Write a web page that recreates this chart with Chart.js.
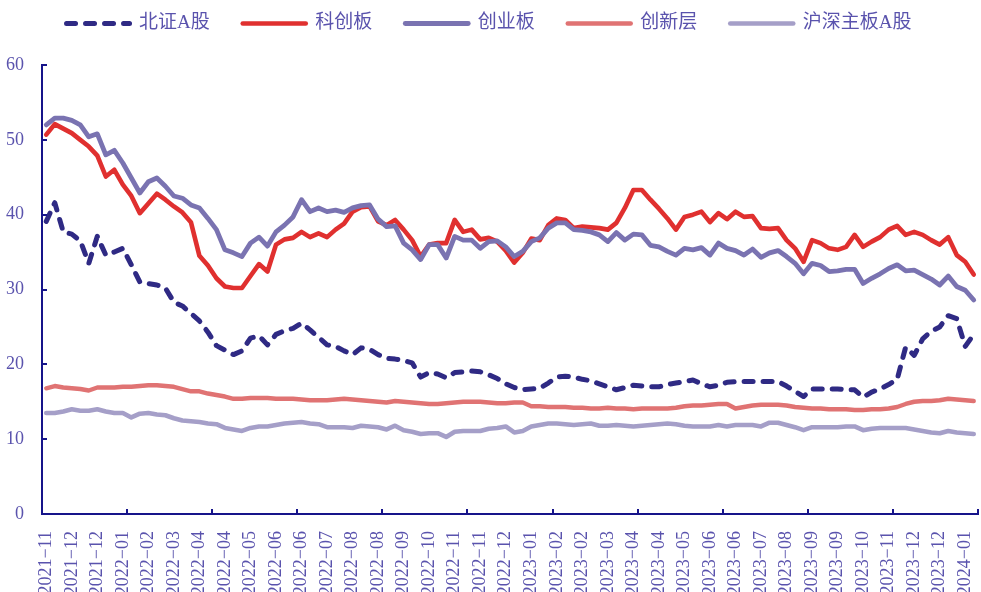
<!DOCTYPE html>
<html>
<head>
<meta charset="utf-8">
<script src="https://cdn.jsdelivr.net/npm/chart.js@4.4.1/dist/chart.umd.min.js"></script>
<style>
  html, body { margin: 0; padding: 0; background: #fff; }
  #wrap { width: 981px; height: 592px; }
</style>
</head>
<body>
<div id="wrap"><canvas id="peChart" width="981" height="592"></canvas></div>
<script>
// tick labels, one every 3 weeks
var tickLabels = ["2021−11","2021−12","2021−12","2022−01","2022−02","2022−03","2022−04","2022−04",
  "2022−05","2022−06","2022−06","2022−07","2022−08","2022−08","2022−09","2022−10","2022−11","2022−11",
  "2022−12","2023−01","2023−02","2023−02","2023−03","2023−04","2023−04","2023−05","2023−06","2023−06",
  "2023−07","2023−08","2023−09","2023−09","2023−10","2023−11","2023−12","2023−12","2024−01"];

// 北证A股
var bjA = [39.1,41.6,37.7,37.4,36.5,33.5,37.1,34.6,35.0,35.5,33.3,31.0,30.8,30.6,30.2,28.3,27.8,26.8,25.8,24.3,
  22.5,21.9,21.3,21.8,23.5,23.8,22.6,24.0,24.5,24.8,25.5,24.6,23.6,22.6,22.4,21.8,21.3,22.2,22.0,21.3,
  20.8,20.7,20.5,20.2,18.3,18.9,18.7,18.2,18.9,19.0,19.1,19.0,18.6,18.1,17.4,16.9,16.6,16.7,16.8,17.5,
  18.3,18.4,18.3,18.0,17.8,17.4,17.0,16.6,16.9,17.2,17.1,17.0,17.0,17.3,17.5,17.7,17.9,17.4,17.0,17.2,
  17.6,17.7,17.7,17.7,17.7,17.7,17.7,17.1,16.4,15.7,16.7,16.7,16.7,16.7,16.6,16.6,15.6,16.3,16.7,17.3,
  18.0,22.3,21.2,23.4,24.4,25.0,26.5,26.1,22.4,24.0];
// 科创板
var kcb = [50.7,52.1,51.5,50.9,50.0,49.1,47.9,45.1,46.0,44.0,42.5,40.2,41.5,42.8,42.0,41.1,40.3,39.0,34.5,33.2,
  31.5,30.4,30.2,30.2,31.8,33.4,32.4,36.0,36.7,36.9,37.7,37.0,37.5,37.0,38.0,38.8,40.4,41.0,41.1,39.1,
  38.6,39.3,38.0,36.6,34.4,36.0,36.2,36.2,39.3,37.7,38.0,36.7,36.9,36.4,35.2,33.6,34.9,36.8,36.6,38.6,
  39.5,39.3,38.2,38.4,38.3,38.2,38.0,38.9,40.9,43.3,43.3,42.0,40.8,39.5,38.0,39.7,40.0,40.4,39.0,40.2,
  39.4,40.4,39.7,39.8,38.2,38.1,38.2,36.6,35.5,33.7,36.6,36.2,35.5,35.3,35.7,37.3,35.7,36.4,37.0,38.0,
  38.5,37.3,37.7,37.3,36.6,36.0,37.0,34.6,33.7,32.0];
// 创业板
var cyb = [52.0,52.9,52.9,52.6,52.0,50.4,50.8,48.0,48.6,46.9,44.9,42.9,44.4,44.9,43.8,42.5,42.2,41.3,40.9,39.5,
  38.0,35.3,34.9,34.4,36.2,37.0,35.8,37.7,38.6,39.7,42.0,40.4,40.9,40.4,40.6,40.3,40.9,41.2,41.3,39.4,
  38.4,38.5,36.2,35.3,34.0,36.0,36.0,34.2,37.1,36.6,36.6,35.5,36.4,36.5,35.7,34.4,35.1,36.4,36.9,38.2,
  38.9,38.9,38.0,37.9,37.7,37.3,36.4,37.6,36.6,37.4,37.3,35.9,35.7,35.1,34.6,35.5,35.3,35.6,34.6,36.2,
  35.5,35.2,34.6,35.4,34.3,34.9,35.2,34.4,33.5,32.1,33.5,33.2,32.4,32.5,32.7,32.7,30.8,31.5,32.1,32.8,
  33.3,32.5,32.6,32.0,31.4,30.6,31.8,30.4,29.9,28.6];
// 创新层
var cxc = [16.8,17.1,16.9,16.8,16.7,16.5,16.9,16.9,16.9,17.0,17.0,17.1,17.2,17.2,17.1,17.0,16.7,16.4,16.4,16.1,
  15.9,15.7,15.4,15.4,15.5,15.5,15.5,15.4,15.4,15.4,15.3,15.2,15.2,15.2,15.3,15.4,15.3,15.2,15.1,15.0,
  14.9,15.1,15.0,14.9,14.8,14.7,14.7,14.8,14.9,15.0,15.0,15.0,14.9,14.8,14.8,14.9,14.9,14.4,14.4,14.3,
  14.3,14.3,14.2,14.2,14.1,14.1,14.2,14.1,14.1,14.0,14.1,14.1,14.1,14.1,14.2,14.4,14.5,14.5,14.6,14.7,
  14.7,14.1,14.3,14.5,14.6,14.6,14.6,14.5,14.3,14.2,14.1,14.1,14.0,14.0,14.0,13.9,13.9,14.0,14.0,14.1,
  14.3,14.7,15.0,15.1,15.1,15.2,15.4,15.3,15.2,15.1];
// 沪深主板A股
var hsA = [13.5,13.5,13.7,14.0,13.8,13.8,14.0,13.7,13.5,13.5,12.9,13.4,13.5,13.3,13.2,12.8,12.5,12.4,12.3,12.1,
  12.0,11.5,11.3,11.1,11.5,11.7,11.7,11.9,12.1,12.2,12.3,12.1,12.0,11.6,11.6,11.6,11.5,11.8,11.7,11.6,
  11.3,11.8,11.2,11.0,10.7,10.8,10.8,10.3,11.0,11.1,11.1,11.1,11.4,11.5,11.7,10.9,11.1,11.7,11.9,12.1,
  12.1,12.0,11.9,12.0,12.1,11.8,11.8,11.9,11.8,11.7,11.8,11.9,12.0,12.1,12.0,11.8,11.7,11.7,11.7,11.9,
  11.7,11.9,11.9,11.9,11.7,12.2,12.2,11.9,11.6,11.2,11.6,11.6,11.6,11.6,11.7,11.7,11.2,11.4,11.5,11.5,
  11.5,11.5,11.3,11.1,10.9,10.8,11.1,10.9,10.8,10.7];

var weeks = tickLabels.flatMap(function (l) { return [l, "", ""]; }).slice(0, bjA.length);

var txtColor = "#5a53ad";
var axisColor = "#16148a";
var tickFont = { family: "'Liberation Serif', 'Times New Roman', serif", size: 18 };

function ds(label, data, color, width, order, dash) {
  return {
    label: label, data: data, borderColor: color, backgroundColor: color,
    borderWidth: width, borderDash: dash || [], borderCapStyle: "round", borderJoinStyle: "round",
    pointRadius: 0, pointHoverRadius: 0, tension: 0, fill: false, order: order
  };
}

// inward tick marks, every 10 weeks on x and every 10 on y
var innerTicks = {
  id: "innerTicks",
  afterDraw: function (chart) {
    var ctx = chart.ctx, x = chart.scales.x, y = chart.scales.y;
    var half = (x.getPixelForValue(1) - x.getPixelForValue(0)) / 2;
    ctx.save();
    ctx.strokeStyle = axisColor;
    ctx.lineWidth = 2;
    ctx.beginPath();
    for (var k = 0; k <= bjA.length; k += 10) {
      var px = Math.round(x.getPixelForValue(k) - half);
      ctx.moveTo(px, y.bottom);
      ctx.lineTo(px, y.bottom - 5);
    }
    for (var v = 10; v <= 60; v += 10) {
      var py = Math.round(y.getPixelForValue(v));
      ctx.moveTo(x.left, py);
      ctx.lineTo(x.left + 5, py);
    }
    ctx.stroke();
    ctx.restore();
  }
};

var legendHeight = {
  id: "legendHeight",
  beforeInit: function (chart) {
    var fit = chart.legend.fit;
    chart.legend.fit = function () {
      fit.call(this);
      this.height = 84;
    };
  }
};

new Chart(document.getElementById("peChart"), {
  type: "line",
  data: {
    labels: weeks,
    datasets: [
      ds("北证A股", bjA, "#2f2a84", 5, 5, [9, 10]),
      ds("科创板", kcb, "#e0302f", 4.6, 4),
      ds("创业板", cyb, "#7a73b1", 4.8, 3),
      ds("创新层", cxc, "#e07373", 4.4, 2),
      ds("沪深主板A股", hsA, "#a59fc8", 4.6, 1)
    ]
  },
  options: {
    responsive: false,
    animation: false,
    devicePixelRatio: 1,
    layout: { padding: { top: -19, left: 0, right: 3, bottom: 0 } },
    plugins: {
      tooltip: { enabled: false },
      legend: {
        position: "top",
        labels: {
          color: txtColor,
          font: { family: "'Liberation Serif', 'Noto Sans CJK SC', serif", size: 19 },
          usePointStyle: true,
          pointStyle: "line",
          pointStyleWidth: 63,
          padding: 33,
          generateLabels: function (chart) {
            var items = Chart.defaults.plugins.legend.labels.generateLabels(chart);
            items.sort(function (a, b) { return a.datasetIndex - b.datasetIndex; });
            items.forEach(function (it) {
              var d = chart.data.datasets[it.datasetIndex];
              it.lineWidth = d.borderWidth;
              it.lineDash = d.borderDash;
              it.strokeStyle = d.borderColor;
              it.lineCap = "round";
            });
            return items;
          }
        }
      }
    },
    scales: {
      x: {
        type: "category",
        offset: true,
        grid: { display: false },
        border: { display: true, color: axisColor, width: 2 },
        ticks: {
          autoSkip: false, minRotation: 90, maxRotation: 90,
          padding: 9, color: txtColor, font: tickFont
        },
        afterFit: function (scale) {
          scale.height = 78;
          scale.paddingLeft = 0;
          scale.paddingRight = 0;
        }
      },
      y: {
        min: 0, max: 60,
        grid: { display: false },
        border: { display: true, color: axisColor, width: 2 },
        ticks: { stepSize: 10, padding: 10, color: txtColor, font: tickFont },
        afterFit: function (scale) { scale.width = 42; }
      }
    }
  },
  plugins: [innerTicks, legendHeight]
});
</script>
</body>
</html>
